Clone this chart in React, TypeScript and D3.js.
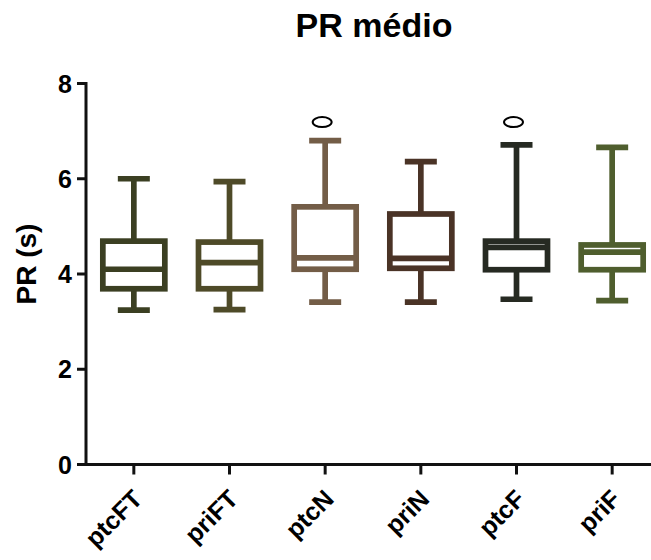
import React from "react";
import * as d3 from "d3";

const categories = ["ptcFT", "priFT", "ptcN", "priN", "ptcF", "priF"];
const mins = [3.24, 3.25, 3.41, 3.41, 3.47, 3.44];
const q1s = [3.69, 3.69, 4.1, 4.12, 4.09, 4.09];
const medians = [4.1, 4.24, 4.34, 4.33, 4.56, 4.46];
const q3s = [4.69, 4.67, 5.41, 5.26, 4.69, 4.61];
const maxs = [6.0, 5.94, 6.8, 6.36, 6.71, 6.66];
const outliers: (number | null)[] = [null, null, 7.19, null, 7.19, null];
const colors = ["#3b3f22", "#4e4a28", "#735d47", "#4a3326", "#262a22", "#4f5e2e"];
const yTicks = [0, 2, 4, 6, 8];

export default function App() {
  const W = 651, H = 560;
  const x0 = 86, x1 = 660;
  const y = d3.scaleLinear().domain([0, 8]).range([464.5, 83.5]);
  const x = d3.scaleBand().domain(categories).range([x0, x1]).padding(0);
  const sw = 5.7;
  const boxW = 62;
  const capW = 32;
  const font = "Liberation Sans, Arial, Helvetica, sans-serif";
  return (
    <svg width={W} height={H} style={{ position: "absolute", left: 0, top: 0 }}>
      <rect width={W} height={H} fill="#fff" />
      <text x={374} y={37} textAnchor="middle" fontFamily={font} fontWeight="bold" fontSize={34}>PR médio</text>
      <text transform={`translate(36,264) rotate(-90)`} textAnchor="middle" fontFamily={font} fontWeight="bold" fontSize={28}>PR (s)</text>
      {/* y axis */}
      <line x1={x0} x2={x0} y1={y(8) - 1.5} y2={y(0) + 1.5} stroke="#111" strokeWidth={3} />
      {yTicks.map((t) => (
        <g key={t}>
          <line x1={x0 - 9} x2={x0} y1={y(t)} y2={y(t)} stroke="#111" strokeWidth={3} />
          <text x={x0 - 14} y={y(t) + 9} textAnchor="end" fontFamily={font} fontWeight="bold" fontSize={25}>{t}</text>
        </g>
      ))}
      {/* x axis */}
      <line x1={x0 - 1.5} x2={x1} y1={y(0)} y2={y(0)} stroke="#111" strokeWidth={3} />
      {categories.map((c) => {
        const cx = (x(c) as number) + x.bandwidth() / 2;
        return (
          <g key={c}>
            <line x1={cx} x2={cx} y1={y(0)} y2={y(0) + 10} stroke="#111" strokeWidth={3} />
            <text transform={`translate(${cx + 10},${y(0) + 36}) rotate(-45)`} textAnchor="end" fontFamily={font} fontWeight="bold" fontSize={25}>{c}</text>
          </g>
        );
      })}
      {/* boxes */}
      {categories.map((c, i) => {
        const cx = (x(c) as number) + x.bandwidth() / 2;
        const col = colors[i];
        const o = outliers[i];
        return (
          <g key={c} stroke={col} strokeWidth={sw} fill="none">
            <line x1={cx} x2={cx} y1={y(maxs[i])} y2={y(q3s[i])} />
            <line x1={cx} x2={cx} y1={y(q1s[i])} y2={y(mins[i])} />
            <line x1={cx - capW / 2} x2={cx + capW / 2} y1={y(maxs[i])} y2={y(maxs[i])} />
            <line x1={cx - capW / 2} x2={cx + capW / 2} y1={y(mins[i])} y2={y(mins[i])} />
            <rect x={cx - boxW / 2} y={y(q3s[i])} width={boxW} height={y(q1s[i]) - y(q3s[i])} />
            <line x1={cx - boxW / 2} x2={cx + boxW / 2} y1={y(medians[i])} y2={y(medians[i])} />
            {o !== null && (
              <ellipse cx={cx - 3} cy={y(o)} rx={9.5} ry={5} stroke="#000" strokeWidth={2} fill="none" />
            )}
          </g>
        );
      })}
    </svg>
  );
}
